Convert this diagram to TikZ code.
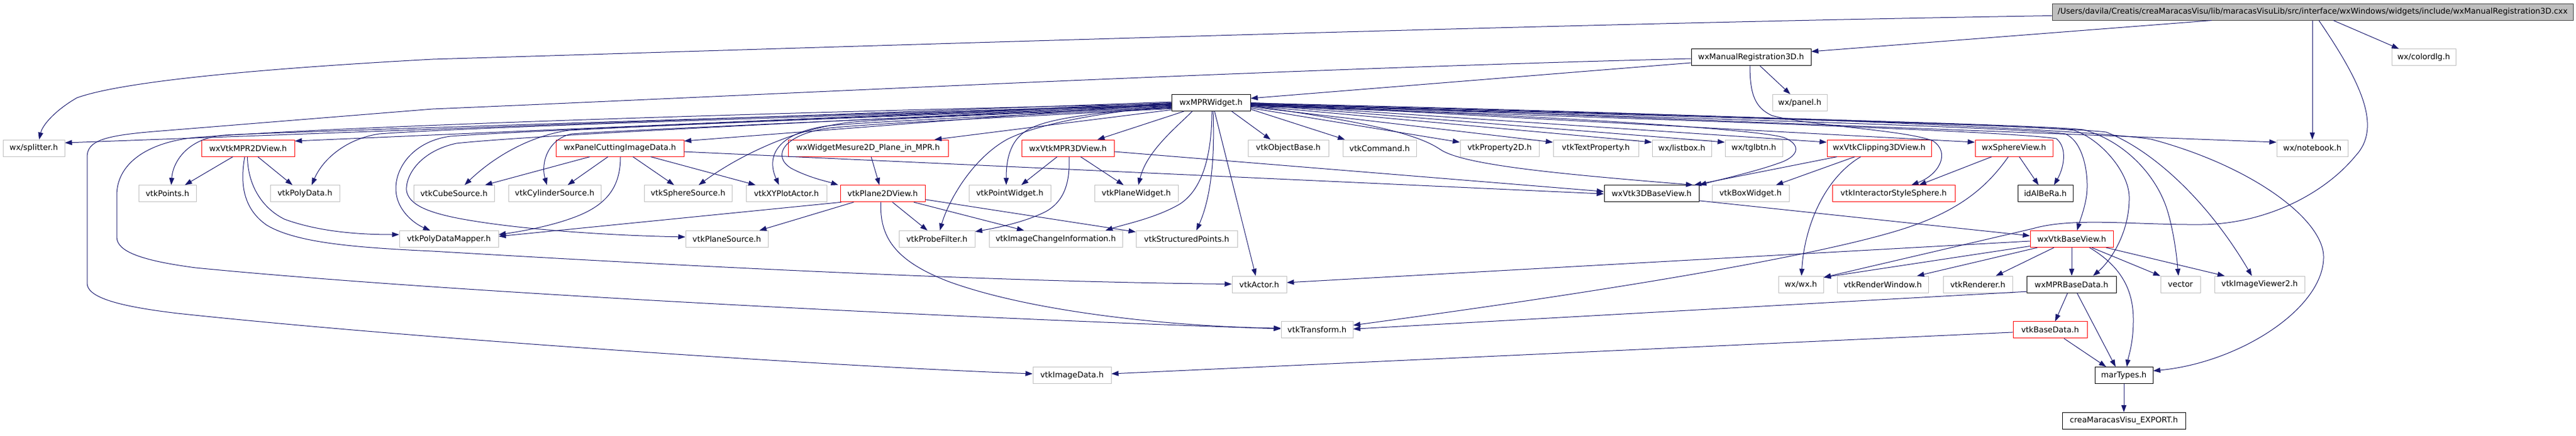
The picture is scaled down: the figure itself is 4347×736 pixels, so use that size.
\documentclass[tikz,border=0pt]{standalone}
\usepackage{fontspec}
\setmainfont{DejaVu Sans}
\usetikzlibrary{arrows.meta}
\definecolor{edgec}{RGB}{25,25,112}
\definecolor{lgray}{RGB}{191,191,191}
\definecolor{rootfill}{RGB}{191,191,191}
\definecolor{redb}{RGB}{255,0,0}
\begin{document}
\begin{tikzpicture}[x=1pt,y=-1pt,
 nd/.style={rectangle,draw,line width=1pt,minimum height=28pt,inner sep=0pt,fill=white,font=\fontsize{13.3}{16}\selectfont,text=black},
 gn/.style={nd,draw=lgray},
 rn/.style={nd,draw=redb},
 bn/.style={nd,draw=black},
 rootn/.style={nd,draw=black!75,fill=rootfill},
 ed/.style={draw=edgec,line width=1pt,-{Triangle[length=12pt,width=8.5pt]}}]
\fill[white] (0,0) rectangle (4347,736);
\useasboundingbox (0,0) rectangle (4347,736);
% row 0-2
\node[rootn,minimum width=879pt] (root) at (3902.5,20) {/Users/davila/Creatis/creaMaracasVisu/lib/maracasVisuLib/src/interface/wxWindows/widgets/include/wxManualRegistration3D.cxx};
\node[bn,minimum width=202pt] (mr3d) at (2955,96.7) {wxManualRegistration3D.h};
\node[gn,minimum width=108pt] (colordlg) at (4090,96.7) {wx/colordlg.h};
\node[bn,minimum width=133pt] (wxmpr) at (2043.5,173.4) {wxMPRWidget.h};
\node[gn,minimum width=92pt] (panel) at (3037,173.4) {wx/panel.h};
% row 3
\node[gn,minimum width=104pt] (splitter) at (57,250.1) {wx/splitter.h};
\node[rn,minimum width=157pt] (mpr2d) at (418.5,250.1) {wxVtkMPR2DView.h};
\node[rn,minimum width=216pt] (pcut) at (1046,250.1) {wxPanelCuttingImageData.h};
\node[rn,minimum width=270pt] (mes2d) at (1465,250.1) {wxWidgetMesure2D\_Plane\_in\_MPR.h};
\node[rn,minimum width=156pt] (mpr3d) at (1802,250.1) {wxVtkMPR3DView.h};
\node[gn,minimum width=136pt] (objbase) at (2174,250.1) {vtkObjectBase.h};
\node[gn,minimum width=124pt] (command) at (2328,250.1) {vtkCommand.h};
\node[gn,minimum width=133pt] (prop2d) at (2530.5,250.1) {vtkProperty2D.h};
\node[gn,minimum width=144pt] (textprop) at (2693,250.1) {vtkTextProperty.h};
\node[gn,minimum width=100pt] (listbox) at (2838,250.1) {wx/listbox.h};
\node[gn,minimum width=97pt] (tglbtn) at (2959.5,250.1) {wx/tglbtn.h};
\node[rn,minimum width=176pt] (clip3d) at (3171,250.1) {wxVtkClipping3DView.h};
\node[rn,minimum width=131pt] (sphview) at (3398.5,250.1) {wxSphereView.h};
\node[gn,minimum width=120pt] (notebook) at (3902,250.1) {wx/notebook.h};
% row 4
\node[gn,minimum width=97pt] (points) at (282.5,326.8) {vtkPoints.h};
\node[gn,minimum width=117pt] (polydata) at (514.5,326.8) {vtkPolyData.h};
\node[gn,minimum width=136pt] (cube) at (766,326.8) {vtkCubeSource.h};
\node[gn,minimum width=156pt] (cyl) at (936,326.8) {vtkCylinderSource.h};
\node[gn,minimum width=148pt] (sphsrc) at (1161,326.8) {vtkSphereSource.h};
\node[gn,minimum width=136pt] (xyplot) at (1327,326.8) {vtkXYPlotActor.h};
\node[rn,minimum width=143pt] (plane2d) at (1489.5,326.8) {vtkPlane2DView.h};
\node[gn,minimum width=138pt] (pointw) at (1704,326.8) {vtkPointWidget.h};
\node[gn,minimum width=141pt] (planew) at (1917.5,326.8) {vtkPlaneWidget.h};
\node[bn,minimum width=160pt] (base3d) at (2787,326.8) {wxVtk3DBaseView.h};
\node[gn,minimum width=130pt] (boxw) at (2954,326.8) {vtkBoxWidget.h};
\node[rn,minimum width=207pt] (isphere) at (3195.5,326.8) {vtkInteractorStyleSphere.h};
\node[bn,minimum width=93pt] (idal) at (3451.5,326.8) {idAlBeRa.h};
% row 5
\node[gn,minimum width=167pt] (pdmap) at (757.5,403.5) {vtkPolyDataMapper.h};
\node[gn,minimum width=139pt] (plsrc) at (1226.5,403.5) {vtkPlaneSource.h};
\node[gn,minimum width=128pt] (probe) at (1581,403.5) {vtkProbeFilter.h};
\node[gn,minimum width=225pt] (imgci) at (1781.5,403.5) {vtkImageChangeInformation.h};
\node[gn,minimum width=171pt] (spts) at (2002.5,403.5) {vtkStructuredPoints.h};
\node[rn,minimum width=140pt] (vbase) at (3496,403.5) {wxVtkBaseView.h};
% row 6
\node[gn,minimum width=92pt] (actor) at (2125,480.2) {vtkActor.h};
\node[gn,minimum width=76pt] (wxwx) at (3039,480.2) {wx/wx.h};
\node[gn,minimum width=154pt] (renwin) at (3177,480.2) {vtkRenderWindow.h};
\node[gn,minimum width=117pt] (renderer) at (3337.5,480.2) {vtkRenderer.h};
\node[bn,minimum width=151pt] (mprbase) at (3495.5,480.2) {wxMPRBaseData.h};
\node[gn,minimum width=67pt] (vector) at (3679.5,480.2) {vector};
\node[gn,minimum width=152pt] (viewer2) at (3813,480.2) {vtkImageViewer2.h};
% row 7-9
\node[gn,minimum width=121pt] (transform) at (2222.5,556.9) {vtkTransform.h};
\node[rn,minimum width=125pt] (basedata) at (3459.5,556.9) {vtkBaseData.h};
\node[gn,minimum width=132pt] (imgdata) at (1809,633.6) {vtkImageData.h};
\node[bn,minimum width=98pt] (martypes) at (3584,633.6) {marTypes.h};
\node[bn,minimum width=208pt] (export) at (3584,710.3) {creaMaracasVisu\_EXPORT.h};

% ---- edges from root
\draw[ed] ([yshift=-6.5pt]root.west) .. controls (2600,40) and (1400,80) .. (730,100) .. controls (400,118) and (200,140) .. (130,165) .. controls (95,185) and (72,210) .. ([xshift=9pt]splitter.north);
\draw[ed] ([xshift=-170.5pt]root.south) -- ([yshift=9.7pt]mr3d.east);
\draw[ed] ([xshift=-0.5pt]root.south) -- (notebook.north);
\draw[ed] ([xshift=35pt]root.south) -- ([xshift=-42pt]colordlg.north);
\draw[ed] ([xshift=10.5pt]root.south) .. controls (3985,140) and (4020,215) .. (3975,263) .. controls (3920,330) and (3820,378) .. (3716,379) .. controls (3600,380) and (3500,366) .. (3430,386) -- ([yshift=12pt]wxwx.east);
% ---- edges from wxManualRegistration3D
\draw[ed] ([yshift=-9.3pt]mr3d.west) -- ([yshift=7.4pt]wxmpr.east);
\draw[ed] ([yshift=-2.3pt]mr3d.west) .. controls (2100,118) and (1300,160) .. (730,184) -- (260,222) .. controls (175,229) and (147,238) .. (147,265) -- (147,478) .. controls (147,500) and (190,516) .. (300,529) .. controls (700,572) and (1400,618) .. ([yshift=2.6pt]imgdata.west);
\draw[ed] ([xshift=15pt]mr3d.south) -- ([xshift=-16pt]panel.north);
\draw[ed] ([xshift=-2pt]mr3d.south) .. controls (2953,160) and (2962,182) .. (2990,195) .. controls (3050,212) and (3220,220) .. (3262,238) .. controls (3292,258) and (3272,295) .. ([xshift=30pt]isphere.north);
% ---- edges from wxMPRWidget, leftwards
\draw[ed] ([yshift=1.4pt]wxmpr.west) -- ([yshift=9pt]splitter.east);
\draw[ed] (wxmpr.west) -- ([yshift=12pt]mpr2d.east);
\draw[ed] ([yshift=-3pt]wxmpr.west) .. controls (1200,200) and (500,222) .. (380,228) .. controls (320,232) and (292,270) .. ([xshift=6.5pt]points.north);
\draw[ed] ([yshift=-4pt]wxmpr.west) .. controls (1400,196) and (800,214) .. (640,226) .. controls (585,234) and (545,268) .. ([xshift=11.5pt]polydata.north);
\draw[ed] ([yshift=-5pt]wxmpr.west) .. controls (1500,196) and (1100,212) .. (960,220) .. controls (890,230) and (830,268) .. ([xshift=18pt]cube.north);
\draw[ed] ([yshift=-6pt]wxmpr.west) .. controls (1500,200) and (1050,220) .. (965,226) .. controls (925,234) and (912,275) .. ([xshift=-13pt]cyl.north);
\draw[ed] ([yshift=-8pt]wxmpr.west) .. controls (1700,192) and (1500,200) .. (1430,207) .. controls (1330,220) and (1240,268) .. ([xshift=18pt]sphsrc.north);
\draw[ed] ([yshift=-9pt]wxmpr.west) .. controls (1700,195) and (1480,205) .. (1400,212) .. controls (1320,222) and (1290,258) .. ([xshift=-12.5pt]xyplot.north);
\draw[ed] ([yshift=-10pt]wxmpr.west) .. controls (1700,198) and (1480,208) .. (1400,216) .. controls (1325,226) and (1300,262) .. (1335,284) .. controls (1365,300) and (1395,306) .. ([xshift=-3pt]plane2d.north west);
\draw[ed] ([yshift=-1pt]wxmpr.west) -- ([yshift=12pt]pcut.east);
\draw[ed] ([yshift=-12pt]wxmpr.west) -- ([xshift=112pt]mes2d.north);
\draw[ed] ([yshift=-7pt]wxmpr.west) .. controls (1850,190) and (1760,200) .. (1730,222) .. controls (1700,242) and (1698,280) .. ([xshift=-6pt]pointw.north);
\draw[ed] ([yshift=-5pt]wxmpr.west) .. controls (1880,188) and (1760,205) .. (1700,235) .. controls (1640,268) and (1600,340) .. ([xshift=5pt]probe.north);
\draw[ed] ([yshift=-2pt]wxmpr.west) .. controls (1400,200) and (900,220) .. (760,230) .. controls (700,238) and (668,280) .. (668,318) .. controls (668,355) and (700,378) .. ([xshift=-31.5pt]pdmap.north);
\draw[ed] ([yshift=-3pt]wxmpr.west) .. controls (1400,205) and (900,228) .. (770,242) .. controls (710,255) and (684,295) .. (686,322) .. controls (690,345) and (720,360) .. (793,372) .. controls (900,390) and (1050,398) .. ([yshift=3.5pt]plsrc.west);
\draw[ed] ([yshift=-1.5pt]wxmpr.west) .. controls (1300,190) and (600,212) .. (330,232) .. controls (250,240) and (197,275) .. (197,330) -- (197,400) .. controls (197,425) and (240,440) .. (330,452) .. controls (800,498) and (1700,540) .. ([yshift=1.9pt]transform.west);
% ---- edges from wxMPRWidget, downwards / rightwards
\draw[ed] ([xshift=-45.5pt]wxmpr.south) -- ([xshift=50pt]mpr3d.north);
\draw[ed] ([xshift=-31.5pt]wxmpr.south) .. controls (1985,215) and (1935,255) .. ([xshift=3.5pt]planew.north);
\draw[ed] ([xshift=1.5pt]wxmpr.south) .. controls (2045,260) and (2030,320) .. (1990,345) .. controls (1950,368) and (1900,378) .. ([xshift=84pt]imgci.north);
\draw[ed] ([xshift=3.5pt]wxmpr.south) .. controls (2050,260) and (2045,330) .. ([xshift=16.5pt]spts.north);
\draw[ed] ([xshift=6pt]wxmpr.south) -- ([xshift=-6pt]actor.north);
\draw[ed] ([xshift=35pt]wxmpr.south) -- ([xshift=-30pt]objbase.north);
\draw[ed] ([yshift=-11pt]wxmpr.east) -- ([xshift=4pt]command.north west);
\draw[ed] ([yshift=-9pt]wxmpr.east) -- ([yshift=10pt]prop2d.west);
\draw[ed] ([yshift=-7pt]wxmpr.east) -- ([yshift=10pt]textprop.west);
\draw[ed] ([yshift=-5pt]wxmpr.east) -- ([yshift=10pt]listbox.west);
\draw[ed] ([yshift=-3pt]wxmpr.east) -- ([yshift=10pt]tglbtn.west);
\draw[ed] ([yshift=-2pt]wxmpr.east) -- ([yshift=10pt]clip3d.west);
\draw[ed] ([yshift=-1pt]wxmpr.east) -- ([yshift=10pt]sphview.west);
\draw[ed] (wxmpr.east) -- ([yshift=10pt]notebook.west);
\draw[ed] ([yshift=-5pt]wxmpr.east) .. controls (2300,205) and (2390,225) .. (2430,252) .. controls (2470,280) and (2650,295) .. ([xshift=70pt]base3d.north);
\draw[ed] ([yshift=-4pt]wxmpr.east) .. controls (2500,190) and (2950,215) .. (3010,232) .. controls (3042,245) and (3035,265) .. (3000,276) .. controls (2960,290) and (2915,300) .. (base3d.north east);
\draw[ed] ([yshift=-6pt]wxmpr.east) .. controls (2800,200) and (3400,222) .. (3470,234) .. controls (3490,250) and (3482,285) .. ([xshift=14.5pt]idal.north);
\draw[ed] ([yshift=-4.5pt]wxmpr.east) .. controls (2800,198) and (3400,214) .. (3485,226) .. controls (3518,240) and (3525,300) .. (3521,330) .. controls (3518,352) and (3510,372) .. ([xshift=9pt]vbase.north);
\draw[ed] ([yshift=-3.5pt]wxmpr.east) .. controls (2800,196) and (3420,210) .. (3500,220) .. controls (3545,235) and (3592,290) .. (3593,332) .. controls (3594,392) and (3562,440) .. ([xshift=36.5pt]mprbase.north);
\draw[ed] ([yshift=-2.5pt]wxmpr.east) .. controls (2800,194) and (3440,210) .. (3516,219) .. controls (3590,240) and (3640,300) .. (3657,354) .. controls (3668,390) and (3673,430) .. ([xshift=-3.5pt]vector.north);
\draw[ed] ([yshift=-1.5pt]wxmpr.east) .. controls (2800,192) and (3460,212) .. (3554,223) .. controls (3625,250) and (3720,330) .. ([xshift=-13pt]viewer2.north);
\draw[ed] ([yshift=-0.5pt]wxmpr.east) .. controls (2800,190) and (3500,215) .. (3630,235) .. controls (3800,280) and (3920,370) .. (3921,433) .. controls (3922,520) and (3780,612) .. ([yshift=7.6pt]martypes.east);
% ---- wxVtkMPR2DView
\draw[ed] ([xshift=-25.5pt]mpr2d.south) -- ([xshift=29.5pt]points.north);
\draw[ed] ([xshift=16.5pt]mpr2d.south) -- ([xshift=-21pt]polydata.north);
\draw[ed] ([xshift=-1pt]mpr2d.south) .. controls (418,310) and (440,350) .. (480,370) .. controls (540,392) and (610,396) .. ([yshift=7.5pt]pdmap.west);
\draw[ed] ([xshift=-5.5pt]mpr2d.south) .. controls (405,310) and (410,352) .. (450,380) .. controls (500,410) and (600,418) .. (730,424) .. controls (1200,452) and (1700,476) .. ([yshift=0.7pt]actor.west);
% ---- wxPanelCuttingImageData
\draw[ed] ([xshift=-50.5pt]pcut.south) -- ([xshift=52.5pt]cube.north);
\draw[ed] ([xshift=-20pt]pcut.south) -- ([xshift=22pt]cyl.north);
\draw[ed] ([xshift=22pt]pcut.south) -- ([xshift=-23.5pt]sphsrc.north);
\draw[ed] ([xshift=52pt]pcut.south) -- ([xshift=-52pt]xyplot.north);
\draw[ed] ([xshift=1pt]pcut.south) .. controls (1047,320) and (1020,350) .. (960,370) .. controls (920,384) and (870,392) .. ([yshift=7.5pt]pdmap.east);
\draw[ed] ([yshift=-6pt]pcut.east) -- ([yshift=-0.5pt]base3d.west);
% ---- wxWidgetMesure2D, wxVtkMPR3DView
\draw[ed] ([xshift=5pt]mes2d.south) -- ([xshift=-5.5pt]plane2d.north);
\draw[ed] ([xshift=-18pt]mpr3d.south) -- ([xshift=19.5pt]pointw.north);
\draw[ed] ([xshift=21.5pt]mpr3d.south) -- ([xshift=-21.5pt]planew.north);
\draw[ed] ([xshift=2pt]mpr3d.south) .. controls (1806,310) and (1795,340) .. (1765,357) .. controls (1730,375) and (1680,385) .. ([yshift=12.5pt]probe.east);
\draw[ed] ([yshift=-5.9pt]mpr3d.east) -- ([yshift=3.5pt]base3d.west);
% ---- vtkPlane2DView
\draw[ed] ([xshift=-70pt]plane2d.south) -- ([yshift=4.5pt]pdmap.east);
\draw[ed] ([xshift=-49pt]plane2d.south) -- ([xshift=55pt]plsrc.north);
\draw[ed] ([xshift=16.5pt]plane2d.south) -- ([xshift=-16pt]probe.north);
\draw[ed] ([xshift=52.5pt]plane2d.south) -- ([xshift=-53.5pt]imgci.north);
\draw[ed] ([yshift=-10pt]plane2d.east) -- ([yshift=12pt]spts.west);
\draw[ed] ([xshift=-3pt]plane2d.south) .. controls (1484,400) and (1510,440) .. (1600,475) .. controls (1750,530) and (2000,552) .. ([yshift=2.9pt]transform.west);
% ---- wxVtk3DBaseView, clipping, sphere
\draw[ed] ([yshift=-12pt]base3d.east) -- ([yshift=5.5pt]vbase.west);
\draw[ed] ([xshift=-71pt]clip3d.south) -- ([xshift=72pt]base3d.north);
\draw[ed] ([xshift=-41pt]clip3d.south) -- ([xshift=43pt]boxw.north);
\draw[ed] ([xshift=-31pt]clip3d.south) .. controls (3080,300) and (3045,380) .. ([xshift=1pt]wxwx.north);
\draw[ed] ([xshift=-37.5pt]sphview.south) -- ([xshift=43pt]isphere.north);
\draw[ed] ([xshift=9pt]sphview.south) -- ([xshift=-11.5pt]idal.north);
\draw[ed] ([xshift=-9.5pt]sphview.south) .. controls (3350,320) and (3300,360) .. (3200,390) .. controls (3000,450) and (2500,520) .. ([yshift=7.9pt]transform.east);
% ---- wxVtkBaseView
\draw[ed] ([yshift=-3.5pt]vbase.west) -- ([yshift=3.2pt]actor.east);
\draw[ed] ([yshift=-12pt]vbase.west) -- ([yshift=12pt]wxwx.east);
\draw[ed] ([xshift=-58pt]vbase.south) -- ([xshift=58pt]renwin.north);
\draw[ed] ([xshift=-30pt]vbase.south) -- ([xshift=30.5pt]renderer.north);
\draw[ed] (vbase.south) -- ([xshift=0.5pt]mprbase.north);
\draw[ed] ([xshift=34pt]vbase.south) -- (vector.north west);
\draw[ed] ([xshift=58pt]vbase.south) -- ([xshift=-59pt]viewer2.north);
\draw[ed] ([xshift=30pt]vbase.south) .. controls (3580,450) and (3600,490) .. (3600,540) .. controls (3600,580) and (3592,600) .. ([xshift=5pt]martypes.north);
% ---- wxMPRBaseData, vtkBaseData, marTypes
\draw[ed] ([yshift=-12pt]mprbase.west) -- ([yshift=1.5pt]transform.east);
\draw[ed] ([xshift=-6.5pt]mprbase.south) -- ([xshift=8.5pt]basedata.north);
\draw[ed] ([xshift=9.5pt]mprbase.south) -- ([xshift=-14pt]martypes.north);
\draw[ed] ([xshift=23.5pt]basedata.south) -- ([xshift=-30pt]martypes.north);
\draw[ed] ([yshift=-4pt]basedata.west) -- ([yshift=2.6pt]imgdata.east);
\draw[ed] (martypes.south) -- (export.north);
\end{tikzpicture}
\end{document}
